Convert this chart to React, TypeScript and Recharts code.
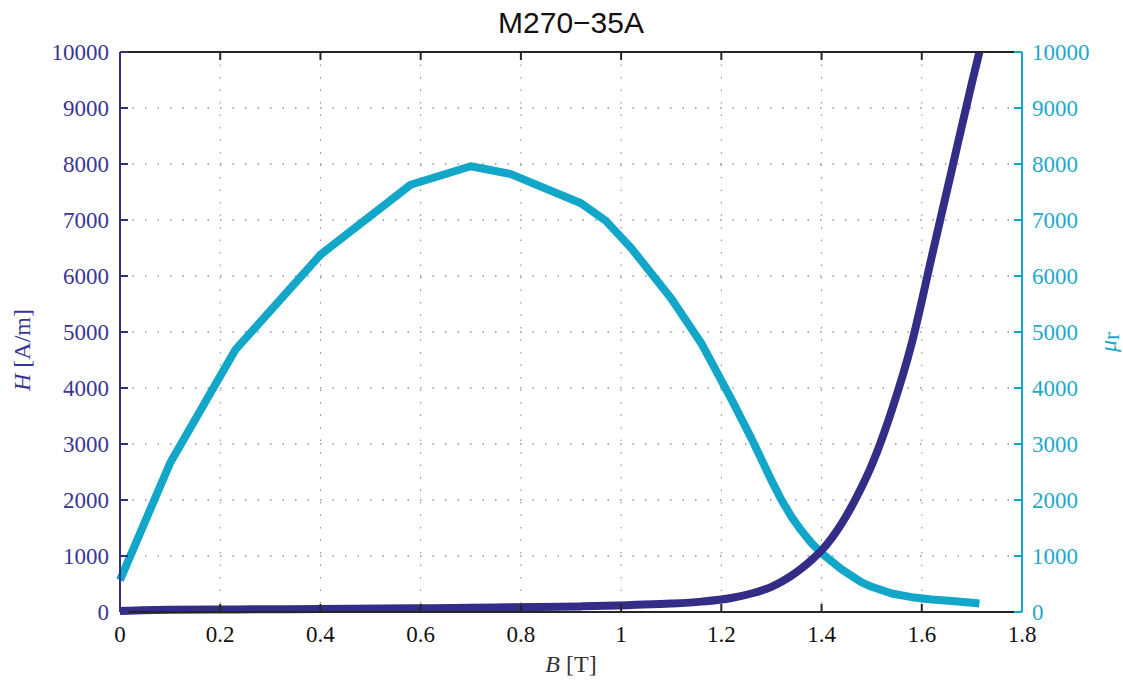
import { LineChart, Line, XAxis, YAxis, CartesianGrid, Label } from 'recharts'

// flux density B [T], shared by both curves
const B = [
  0, 0.1, 0.23, 0.4, 0.58, 0.7, 0.78, 0.92, 0.97, 1.02, 1.1, 1.16, 1.22, 1.26, 1.3, 1.32, 1.34,
  1.36, 1.38, 1.4, 1.44, 1.48, 1.5, 1.54, 1.58, 1.62, 1.66, 1.7, 1.715,
]
// field strength H [A/m]
const H = [
  20, 40, 45, 55, 65, 75, 85, 100, 110, 125, 150, 185, 250, 330, 450, 540, 650,
  780, 930, 1100, 1580, 2230, 2620, 3600, 4800, 6350, 7900, 9450, 10000,
]
// relative permeability
const MU_R = [
  570, 2660, 4680, 6380, 7630, 7960, 7820, 7300, 6980, 6500, 5600, 4800, 3800, 3100, 2350, 2000, 1700,
  1450, 1230, 1050, 760, 530, 450, 330, 265, 225, 195, 165, 150,
]

const B_TICKS = [0, 0.2, 0.4, 0.6, 0.8, 1, 1.2, 1.4, 1.6, 1.8]
const Y_TICKS = [0, 1000, 2000, 3000, 4000, 5000, 6000, 7000, 8000, 9000, 10000]

const TITLE = 'M270−35A'

const data = B.map((b, i) => ({ b, h: H[i], mu: MU_R[i] }))

const NAVY = '#332d87'
const NAVY_TEXT = '#3a3592'
const CYAN = '#12a6c9'
const CYAN_TEXT = '#1da8ca'
const DARK = '#262626'
const SERIF = '"Liberation Serif", "Times New Roman", serif'
const SANS = '"Liberation Sans", Arial, sans-serif'

export default function App() {
  return (
    <div style={{ position: 'absolute', left: 0, top: 0, background: '#fff' }}>
      <LineChart width={1123} height={681} data={data} margin={{ top: 51, right: 0, bottom: 0, left: 0 }}>
        <CartesianGrid
          yAxisId="left"
          vertical={false}
          stroke="#5a55b0"
          strokeDasharray="1.5 11"
        />
        <CartesianGrid
          yAxisId="left"
          horizontal={false}
          stroke="#888888"
          strokeDasharray="1.5 11"
        />
        <XAxis
          dataKey="b"
          type="number"
          domain={[0, 1.8]}
          ticks={B_TICKS}
          height={69}
          tickSize={-8}
          tickMargin={22}
          axisLine={{ stroke: DARK, strokeWidth: 2 }}
          tickLine={{ stroke: DARK, strokeWidth: 2 }}
          tick={{ fill: '#111', fontSize: 23, fontFamily: SERIF }}
        >
          <Label
            content={({ viewBox }: any) => (
              <text
                x={viewBox.x + viewBox.width / 2}
                y={viewBox.y + 60}
                textAnchor="middle"
                fill="#333"
                fontSize={24}
                fontFamily={SERIF}
              >
                <tspan fontStyle="italic">B</tspan>
                <tspan> [T]</tspan>
              </text>
            )}
          />
        </XAxis>
        {/* top frame edge with inward ticks, carries the title */}
        <XAxis
          xAxisId="top"
          dataKey="b"
          type="number"
          orientation="top"
          domain={[0, 1.8]}
          ticks={B_TICKS}
          height={1}
          tickSize={-8}
          tickFormatter={() => ''}
          axisLine={{ stroke: DARK, strokeWidth: 2 }}
          tickLine={{ stroke: DARK, strokeWidth: 2 }}
        >
          <Label
            content={({ viewBox }: any) => (
              <text
                x={viewBox.x + viewBox.width / 2}
                y={viewBox.y + viewBox.height - 19}
                textAnchor="middle"
                fill="#111"
                fontSize={30}
                fontFamily={SANS}
              >
                {TITLE}
              </text>
            )}
          />
        </XAxis>
        <YAxis
          yAxisId="left"
          type="number"
          domain={[0, 10000]}
          ticks={Y_TICKS}
          width={120}
          tickSize={-8}
          tickMargin={19}
          axisLine={{ stroke: NAVY, strokeWidth: 2 }}
          tickLine={{ stroke: NAVY, strokeWidth: 2 }}
          tick={{ fill: NAVY_TEXT, fontSize: 23, fontFamily: SERIF }}
        >
          <Label
            content={({ viewBox }: any) => {
              const cx = 22
              const cy = viewBox.y + viewBox.height / 2 + 18
              return (
                <text
                  x={cx}
                  y={cy}
                  transform={`rotate(-90 ${cx} ${cy})`}
                  textAnchor="middle"
                  dominantBaseline="central"
                  fill={NAVY_TEXT}
                  fontSize={24}
                  fontFamily={SERIF}
                >
                  <tspan fontStyle="italic">H</tspan>
                  <tspan> [A/m]</tspan>
                </text>
              )
            }}
          />
        </YAxis>
        <YAxis
          yAxisId="right"
          orientation="right"
          type="number"
          domain={[0, 10000]}
          ticks={Y_TICKS}
          width={101}
          tickSize={-8}
          tickMargin={18}
          axisLine={{ stroke: CYAN, strokeWidth: 2 }}
          tickLine={{ stroke: CYAN, strokeWidth: 2 }}
          tick={{ fill: CYAN_TEXT, fontSize: 23, fontFamily: SERIF }}
        >
          <Label
            content={({ viewBox }: any) => {
              const cx = viewBox.x + 86
              const cy = viewBox.y + viewBox.height / 2 + 10
              return (
                <text
                  x={cx}
                  y={cy}
                  transform={`rotate(-90 ${cx} ${cy})`}
                  textAnchor="middle"
                  dominantBaseline="central"
                  fill={CYAN_TEXT}
                  fontSize={24}
                  fontFamily={SERIF}
                >
                  <tspan fontStyle="italic">μ</tspan>
                  <tspan dy={3}>r</tspan>
                </text>
              )
            }}
          />
        </YAxis>
        <Line
          yAxisId="right"
          type="linear"
          dataKey="mu"
          stroke={CYAN}
          strokeWidth={8}
          strokeLinejoin="round"
          dot={false}
          isAnimationActive={false}
        />
        <Line
          yAxisId="left"
          type="monotone"
          dataKey="h"
          stroke={NAVY}
          strokeWidth={8}
          strokeLinejoin="round"
          dot={false}
          isAnimationActive={false}
        />
      </LineChart>
    </div>
  )
}
